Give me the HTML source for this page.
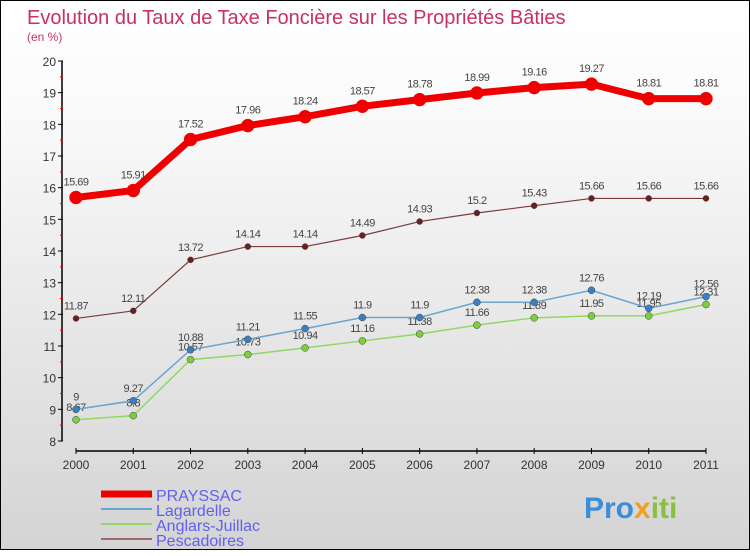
<!DOCTYPE html>
<html><head><meta charset="utf-8"><style>
body{margin:0;width:750px;height:550px;overflow:hidden}
#c{position:absolute;left:0;top:0;width:748px;height:548px;border:1px solid #000;background:linear-gradient(#fff,#fafafa 20%,#d4d4d4)}
text{font-family:"Liberation Sans","DejaVu Sans",sans-serif}
</style></head><body>
<div id="c">
<svg id="s" width="750" height="550">
<text x="26" y="23" font-size="20" fill="#c8325f">Evolution du Taux de Taxe Foncière sur les Propriétés Bâties</text>
<text x="26" y="40" font-size="12" fill="#c8325f">(en %)</text>
<text x="583" y="517" font-size="30" font-weight="bold" fill="#3a8fd8">Pro<tspan fill="#f0a020">x</tspan><tspan fill="#8ac040">iti</tspan></text>
</svg></div>
<script>
const years=["2000","2001","2002","2003","2004","2005","2006","2007","2008","2009","2010","2011"];
const yTicks=[8,9,10,11,12,13,14,15,16,17,18,19,20];
const prayssac=[15.69,15.91,17.52,17.96,18.24,18.57,18.78,18.99,19.16,19.27,18.81,18.81];
const lagardelle=[9,9.27,10.88,11.21,11.55,11.9,11.9,12.38,12.38,12.76,12.19,12.56];
const anglars=[8.67,8.8,10.57,10.73,10.94,11.16,11.38,11.66,11.89,11.95,11.95,12.31];
const pescadoires=[11.87,12.11,13.72,14.14,14.14,14.49,14.93,15.2,15.43,15.66,15.66,15.66];
const s=document.getElementById('s');const NS='http://www.w3.org/2000/svg';
function X(i){return 75+i*(630/(years.length-1));}
function Y(v){return 440-(v-8)*(380/12);}
function mk(t,a,p){const e=document.createElementNS(NS,t);for(const k in a)e.setAttribute(k,a[k]);(p||s).appendChild(e);return e;}
let e;
e=mk('line',{x1:61,y1:Y(20),x2:61,y2:Y(8),stroke:'#000','stroke-width':1.5});


e=mk('line',{x1:75,y1:450,x2:705,y2:450,stroke:'#000','stroke-width':1.5});


yTicks.forEach((v,i)=>{
 mk('line',{x1:57,y1:Y(v),x2:62,y2:Y(v),stroke:'#000'});
 if(i<yTicks.length-1)mk('line',{x1:59,y1:Y(v+0.5),x2:62,y2:Y(v+0.5),stroke:'#e00'});
 e=mk('text',{x:55,y:Y(v)+5,'font-size':12,fill:'#333','text-anchor':'end'});e.textContent=v;
 
 
});
years.forEach((y,i)=>{
 mk('line',{x1:X(i),y1:447,x2:X(i),y2:453,stroke:'#000'});
 e=mk('text',{x:X(i),y:468,'font-size':12,fill:'#333','text-anchor':'middle'});e.textContent=y;
 
 
});
function series(d,name,col,w,r,mcol,dy){
 const g=mk('g',{});
 
 
 mk('polyline',{points:d.map((v,i)=>X(i)+','+Y(v)).join(' '),fill:'none',stroke:col,'stroke-width':w},g);
 d.forEach((v,i)=>{
  e=mk('circle',{cx:X(i),cy:Y(v),r:r,fill:mcol,stroke:col=='#e00'?'#e00':'#444','stroke-width':0.5},g);
  
  
  e=mk('text',{x:X(i),y:Y(v)-dy,'font-size':11,fill:'#444','text-anchor':'middle','letter-spacing':'-0.5'},g);e.textContent=v;
  
  
 });
}
series(anglars,'anglars-juillac','#90d860',1.5,3.5,'#7ecc40',9);
series(lagardelle,'lagardelle','#6aa4d0',1.5,3.5,'#3a80c0',9);
series(pescadoires,'pescadoires','#7a3a3a',1.2,3,'#6a2020',9);
series(prayssac,'prayssac','#e00',7,6.5,'#e00',12);
const leg=[['PRAYSSAC','#e00',7],['Lagardelle','#6aa4d0',2],['Anglars-Juillac','#90d860',2],['Pescadoires','#a06868',2]];
leg.forEach((l,i)=>{
 const y=493+i*15;
 const g=mk('g',{});
 
 
 mk('line',{x1:100,y1:y,x2:151,y2:y,stroke:l[1],'stroke-width':l[2]},g);
 e=mk('text',{x:155,y:y+7,'font-size':16,fill:'#6060f0'},g);e.textContent=l[0];
});
</script>
</body></html>
